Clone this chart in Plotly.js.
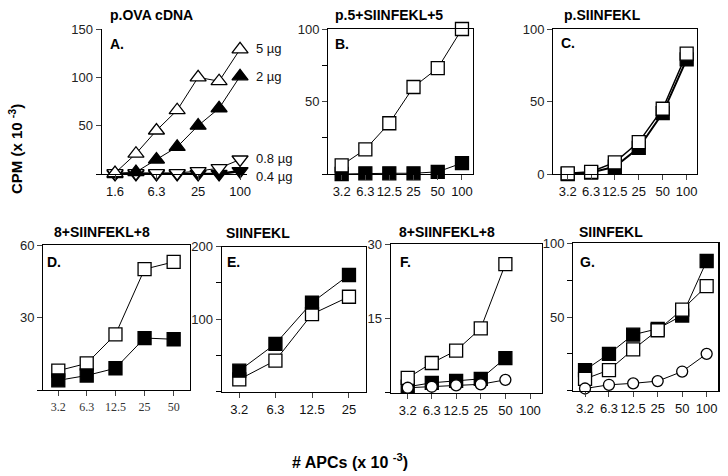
<!DOCTYPE html>
<html>
<head>
<meta charset="utf-8">
<script src="https://cdn.plot.ly/plotly-3.0.1.min.js"></script>
<style>html,body{margin:0;padding:0;background:#fff;}#chart{width:728px;height:476px;}</style>
</head>
<body>
<div id="chart"></div>
<script>
// ---- data ----
const xA = [1.6, 3.2, 6.3, 12.5, 25, 50, 100];
const a5ug = [1, 21, 45, 66, 100, 96, 129];
const a2ug = [0, 2, 15, 28, 50, 68, 101];
const a08ug = [1, 1, 1, 1, 3, 6, 15];
const a04ug = [0, 0, 0, 0, 0, 0, 3];

const xB = [3.2, 6.3, 12.5, 25, 50, 100];
const bOpen = [6, 17, 35, 60, 73, 100];
const bFilled = [0, 0.5, 0.5, 0.5, 1.5, 7.5];

const xC = [3.2, 6.3, 12.5, 25, 50, 100];
const cOpen = [0.5, 1.5, 8, 22, 45, 83];
const cFilled = [0, 1, 5, 18, 42, 79];

const xD = [3.2, 6.3, 12.5, 25, 50];
const dOpen = [8, 11, 23, 50, 53];
const dFilled = [4, 6, 9, 21.5, 21];

const xE = [3.2, 6.3, 12.5, 25];
const eFilled = [29, 66, 123, 161];
const eOpen = [17, 43, 107, 131];

const xF = [3.2, 6.3, 12.5, 25, 50];
const fOpen = [3, 6, 8.5, 13, 26];
const fFilled = [1.2, 2, 2.4, 2.8, 7];
const fCircle = [1, 1.2, 1.5, 1.7, 2.6];

const xG = [3.2, 6.3, 12.5, 25, 50, 100];
const gFilled = [14, 25, 38, 42, 51, 88];
const gOpen = [8, 14, 28, 41, 55, 71];
const gCircle = [1.5, 4, 5, 6.5, 13, 25];

// tick labels
const ticksA = [1.6, 6.3, 25, 100];
const ticksB = [3.2, 6.3, 12.5, 25, 50, 100];
const ticksD = [3.2, 6.3, 12.5, 25, 50];
const ticksE = [3.2, 6.3, 12.5, 25];
const ticksF = [3.2, 6.3, 12.5, 25, 50, 100];

const titles = ['p.OVA cDNA', 'p.5+SIINFEKL+5', 'p.SIINFEKL', '8+SIINFEKL+8', 'SIINFEKL', '8+SIINFEKL+8', 'SIINFEKL'];
const letters = ['A.', 'B.', 'C.', 'D.', 'E.', 'F.', 'G.'];
const doseLabels = ['5 µg', '2 µg', '0.8 µg', '0.4 µg'];

// ---- layout helpers ----
const W = 728, H = 476;
const FONT = 'Liberation Sans, Arial, sans-serif';
function dx(a, b) { return [a / W, b / W]; }
function dy(top, bottom) { return [1 - bottom / H, 1 - top / H]; }

function tr(x, y, ax, symbol, filled, size, lw) {
  return {
    x: x, y: y, xaxis: 'x' + ax, yaxis: 'y' + ax, type: 'scatter', mode: 'lines+markers',
    line: {color: '#000', width: lw || 1},
    marker: {symbol: symbol, size: size || 13, color: filled ? '#000' : '#fff', line: {color: '#000', width: 1.3}},
    cliponaxis: false, showlegend: false, hoverinfo: 'skip'
  };
}

const data = [
  tr(xA, a04ug, '', 'triangle-down', true, 14, 2.5),
  tr(xA, a08ug, '', 'triangle-down', false, 14),
  tr(xA, a2ug, '', 'triangle-up', true, 14),
  tr(xA, a5ug, '', 'triangle-up', false, 14),
  tr(xB, bFilled, '2', 'square', true),
  tr(xB, bOpen, '2', 'square', false),
  tr(xC, cFilled, '3', 'square', true, 13, 2),
  tr(xC, cOpen, '3', 'square', false, 13, 1.5),
  tr(xD, dOpen, '4', 'square', false),
  tr(xD, dFilled, '4', 'square', true),
  tr(xE, eOpen, '5', 'square', false),
  tr(xE, eFilled, '5', 'square', true),
  tr(xF, fFilled, '6', 'square', true),
  tr(xF, fOpen, '6', 'square', false),
  tr(xF, fCircle, '6', 'circle', false, 11),
  tr(xG, gFilled, '7', 'square', true),
  tr(xG, gOpen, '7', 'square', false),
  tr(xG, gCircle, '7', 'circle', false, 11)
];

function xaxis(dom, range, tv, mirror, serif) {
  return {
    domain: dom, type: 'log', range: range, tickmode: 'array', tickvals: tv, ticktext: tv.map(String),
    tickangle: 0,
    showline: true, linecolor: '#000', linewidth: 1.2, mirror: mirror, ticks: 'outside', ticklen: 5, tickwidth: 1,
    showgrid: false, zeroline: false, fixedrange: true,
    tickfont: serif ? {family: 'Liberation Serif, Times New Roman, serif', size: 12, color: '#333'} : {family: FONT, size: 13, color: '#111'}
  };
}
function yaxis(dom, range, tv, minorv, mirror, anchor) {
  return {
    domain: dom, range: range, tickmode: 'array', tickvals: tv, ticktext: tv.map(String), anchor: anchor,
    showline: true, linecolor: '#000', linewidth: 1.2, mirror: mirror, ticks: 'outside', ticklen: 5, tickwidth: 1,
    minor: {tickmode: 'array', tickvals: minorv, ticks: 'outside', ticklen: 5, tickwidth: 1, tickcolor: '#000', showgrid: false},
    showgrid: false, zeroline: false, fixedrange: true,
    tickfont: {family: FONT, size: 13, color: '#222'}
  };
}

const layout = {
  width: W, height: H, margin: {l: 0, r: 0, t: 0, b: 0},
  paper_bgcolor: '#fff', plot_bgcolor: 'rgba(0,0,0,0)', showlegend: false,
  xaxis: Object.assign(xaxis(dx(101.7, 247), [0.013, 2.1], ticksA, false), {anchor: 'y'}),
  yaxis: yaxis(dy(29, 174), [0, 150], [50, 100, 150], [0], false, 'x'),
  xaxis2: Object.assign(xaxis(dx(328.3, 473), [0.339, 2.137], ticksB, true), {anchor: 'y2'}),
  yaxis2: yaxis(dy(29, 174), [0, 100], [50, 100], [0, 25, 75], true, 'x2'),
  xaxis3: Object.assign(xaxis(dx(553.3, 696.7), [0.324, 2.126], ticksB, true), {anchor: 'y3'}),
  yaxis3: yaxis(dy(29, 174), [0, 100], [0, 50, 100], [], true, 'x3'),
  xaxis4: Object.assign(xaxis(dx(43.3, 190), [0.350, 1.868], ticksD, true, true), {anchor: 'y4'}),
  yaxis4: yaxis(dy(245, 390), [0, 60], [30, 60], [0], true, 'x4'),
  xaxis5: Object.assign(xaxis(dx(221.7, 365.7), [0.362, 1.534], ticksE, true), {anchor: 'y5'}),
  yaxis5: yaxis(dy(246.7, 391.7), [0, 200], [100, 200], [0, 50, 150], true, 'x5'),
  xaxis6: Object.assign(xaxis(dx(390.7, 541.7), [0.297, 2.143], ticksF, true), {anchor: 'y6'}),
  yaxis6: yaxis(dy(244.3, 392.7), [0, 30], [15, 30], [0], true, 'x6'),
  xaxis7: Object.assign(xaxis(dx(573.3, 718.3), [0.361, 2.143], ticksF, true), {anchor: 'y7'}),
  yaxis7: yaxis(dy(243.3, 390.7), [0, 100], [50, 100], [0, 25, 75], true, 'x7'),
  annotations: []
};

function ann(text, xpx, ypx, opts) {
  return Object.assign({
    text: text, xref: 'paper', yref: 'paper', x: xpx / W, y: 1 - ypx / H,
    xanchor: 'left', yanchor: 'middle', showarrow: false,
    font: {family: FONT, size: 14, color: '#000', weight: 'bold'}
  }, opts || {});
}

const titlePos = [[108, 15], [333, 15], [562, 15], [52, 232], [224, 233], [397, 232], [577, 232]];
const letterPos = [[108, 44], [333, 44], [559, 43], [45, 262], [225, 262], [398, 262], [578, 262]];
titles.forEach((t, i) => layout.annotations.push(ann('<b>' + t + '</b>', titlePos[i][0], titlePos[i][1])));
letters.forEach((t, i) => layout.annotations.push(ann('<b>' + t + '</b>', letterPos[i][0], letterPos[i][1])));
const dosePos = [49, 76, 159, 176];
doseLabels.forEach((t, i) => layout.annotations.push(ann(t, 254, dosePos[i], {font: {family: FONT, size: 13, color: '#111'}})));

layout.annotations.push(ann('<b>CPM (x 10 <sup>-3</sup>)</b>', 15, 149, {xanchor: 'center', textangle: -90, font: {family: FONT, size: 15, color: '#000'}}));
layout.annotations.push(ann('<b># APCs (x 10 <sup>-3</sup>)</b>', 350, 461, {xanchor: 'center', font: {family: FONT, size: 16, color: '#000'}}));

Plotly.newPlot('chart', data, layout, {staticPlot: true, displayModeBar: false});
</script>
</body>
</html>
